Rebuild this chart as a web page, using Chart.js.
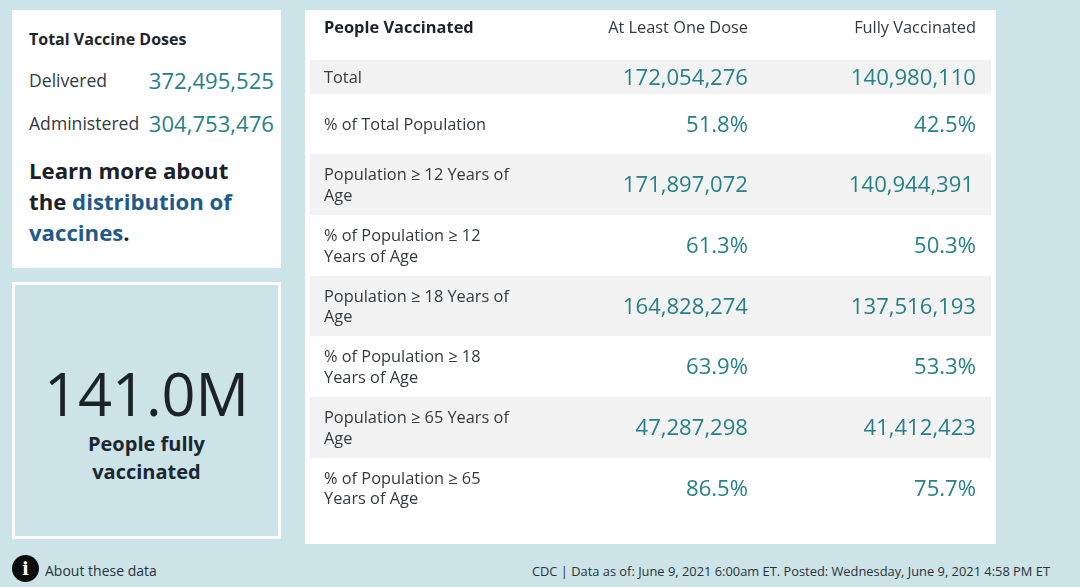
<!DOCTYPE html>
<html>
<head>
<meta charset="utf-8">
<title>People Vaccinated</title>
<script src="https://cdn.jsdelivr.net/npm/chart.js@4"></script>
<style>
  html, body { margin: 0; padding: 0; width: 1080px; height: 587px; overflow: hidden; background: #cce3e8; }
  body { position: relative; font-family: "Open Sans", sans-serif; color: #1f262b; }
  .box { position: absolute; }
  .teal { color: #26808a; }
  #doses { left: 12px; top: 10px; width: 269px; height: 258px; background: #fff; }
  #doses div { position: absolute; white-space: nowrap; }
  #doses .lbl { left: 17px; font-size: 17.6px; line-height: 24px; color: #333a3f; }
  #doses .num { right: 7px; font-size: 22.1px; line-height: 30px; }
  #learn { left: 17px; top: 145px; font-size: 22.2px; line-height: 31px; font-weight: 700; color: #1b2126; }
  #learn a { color: #205a8d; text-decoration: none; }
  #big { left: 12px; top: 282px; width: 263px; height: 251px; border: 3px solid #fff; text-align: center; }
  #big-num { position: absolute; left: 0; right: 0; top: 68px; font-size: 59.5px; line-height: 80px; color: #1b2328; }
  #big-sub { position: absolute; left: 0; right: 0; top: 145px; font-size: 20px; line-height: 28px; font-weight: 700; color: #1b2730; }
  #panel { left: 305px; top: 10px; width: 691px; height: 534px; background: #fff; }
  #table-chart { display: block; }
  #info { left: 12px; top: 555px; width: 27px; height: 27px; border-radius: 50%; background: #0c0c0c; color: #fff; text-align: center; font: 700 18px/27px "DejaVu Serif", serif; }
  #about { left: 45px; top: 561px; font-size: 14px; line-height: 20px; color: #2a3338; }
  #source { right: 30px; top: 561px; font-size: 12.87px; line-height: 20px; color: #2a3338; white-space: nowrap; }
</style>
</head>
<body>
  <div class="box" id="doses">
    <div style="left:17px;top:17px;font-size:16px;line-height:24px;font-weight:700">Total Vaccine Doses</div>
    <div class="lbl" style="top:58px">Delivered</div>
    <div class="num teal" id="delivered" style="top:55px"></div>
    <div class="lbl" style="top:101px">Administered</div>
    <div class="num teal" id="administered" style="top:98px"></div>
    <div id="learn">Learn more about<br>the <a href="#">distribution of<br>vaccines</a>.</div>
  </div>
  <div class="box" id="big">
    <div id="big-num"></div>
    <div id="big-sub">People fully<br>vaccinated</div>
  </div>
  <div class="box" id="panel"><canvas id="table-chart" width="691" height="534"></canvas></div>
  <div class="box" id="info">i</div>
  <div class="box" id="about">About these data</div>
  <div class="box" id="source">CDC | Data as of: June 9, 2021 6:00am ET. Posted: Wednesday, June 9, 2021 4:58 PM ET</div>

<script>
const dosesDelivered = 372495525;
const dosesAdministered = 304753476;
const fullyHeadline = "141.0M";

const tableTitle = "People Vaccinated";
const columns = ["At Least One Dose", "Fully Vaccinated"];
const rowLabels = [
  ["Total"],
  ["% of Total Population"],
  ["Population \u2265 12 Years of", "Age"],
  ["% of Population \u2265 12", "Years of Age"],
  ["Population \u2265 18 Years of", "Age"],
  ["% of Population \u2265 18", "Years of Age"],
  ["Population \u2265 65 Years of", "Age"],
  ["% of Population \u2265 65", "Years of Age"],
];
const atLeastOneDose = [172054276, 51.8, 171897072, 61.3, 164828274, 63.9, 47287298, 86.5];
const fullyVaccinated = [140980110, 42.5, 140944391, 50.3, 137516193, 53.3, 41412423, 75.7];

// row boundaries on the y axis, top of the panel = 0
const rowEdges = [50, 84, 144, 205, 266, 326, 387, 448, 508];
const shadedRows = [0, 2, 4, 6];
const headerY = 18;
const labelX = 19;
const textDrop = 1.5;
const columnRight = [443, 671];

const formatValue = (v) => (v < 100 ? `${v.toFixed(1)}%` : v.toLocaleString("en-US"));

document.getElementById("delivered").textContent = formatValue(dosesDelivered);
document.getElementById("administered").textContent = formatValue(dosesAdministered);
document.getElementById("big-num").textContent = fullyHeadline;

const tableText = {
  id: "tableText",
  afterDatasetsDraw(chart) {
    const { ctx, scales } = chart;
    const family = '"Open Sans", sans-serif';
    ctx.save();
    ctx.textBaseline = "middle";

    ctx.textAlign = "left";
    ctx.fillStyle = "#1b2126";
    ctx.font = `700 16.4px ${family}`;
    ctx.fillText(tableTitle, labelX, scales.y.getPixelForValue(headerY));

    ctx.textAlign = "right";
    ctx.fillStyle = "#333a3f";
    ctx.font = `400 16.35px ${family}`;
    columns.forEach((name, c) => {
      ctx.fillText(name, columnRight[c], scales.y.getPixelForValue(headerY));
    });

    rowLabels.forEach((lines, i) => {
      const mid = scales.y.getPixelForValue((rowEdges[i] + rowEdges[i + 1]) / 2) + textDrop;

      ctx.textAlign = "left";
      ctx.fillStyle = "#333a3f";
      ctx.font = `400 16.35px ${family}`;
      lines.forEach((line, l) => {
        ctx.fillText(line, labelX, mid + (l - (lines.length - 1) / 2) * 20.5);
      });

      ctx.textAlign = "right";
      ctx.fillStyle = "#26808a";
      ctx.font = `400 22.1px ${family}`;
      ctx.fillText(formatValue(atLeastOneDose[i]), columnRight[0], mid);
      ctx.fillText(formatValue(fullyVaccinated[i]), columnRight[1] - (i === 2 ? 2 : 0), mid);
    });
    ctx.restore();
  },
};

new Chart(document.getElementById("table-chart"), {
  type: "bar",
  data: {
    labels: [tableTitle],
    datasets: shadedRows.map((row) => ({
      label: rowLabels[row].join(" "),
      data: [[rowEdges[row], rowEdges[row + 1]]],
      backgroundColor: "#f2f2f2",
      barPercentage: 1,
      categoryPercentage: 1,
      grouped: false,
    })),
  },
  options: {
    responsive: false,
    animation: false,
    layout: { padding: { left: 5, right: 5 } },
    plugins: { legend: { display: false }, tooltip: { enabled: false } },
    scales: {
      x: { display: false },
      y: { display: false, reverse: true, min: 0, max: 534 },
    },
  },
  plugins: [tableText],
});
</script>
</body>
</html>
